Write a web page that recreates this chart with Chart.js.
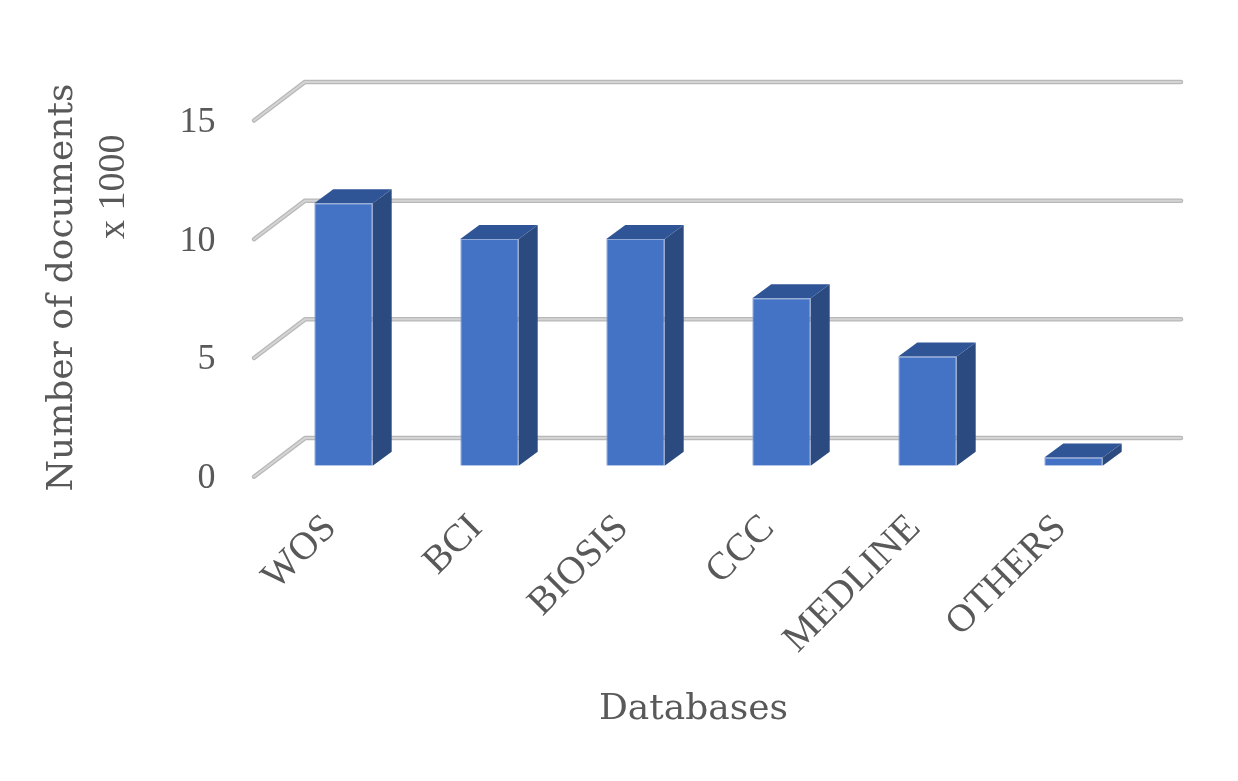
<!DOCTYPE html>
<html>
<head>
<meta charset="utf-8">
<script src="https://cdn.jsdelivr.net/npm/chart.js@4/dist/chart.umd.min.js"></script>
<style>
  body { margin: 0; background: #fff; }
  #chart { display: block; }
</style>
</head>
<body>
<canvas id="chart" width="1238" height="781"></canvas>
<script>
// Data (thousands of documents per database)
const databases = ['WOS', 'BCI', 'BIOSIS', 'CCC', 'MEDLINE', 'OTHERS'];
const documents = [11.05, 9.55, 9.55, 7.05, 4.6, 0.35];
const yTicks = [0, 5, 10, 15];

const textColor = '#595959';
const serif = '"Liberation Serif", "Times New Roman", serif';
const titleFont = '"DejaVu Serif", serif';

// depth offsets of the fake 3D box, relative to the bar plane
const backShift = { x: 34.5, y: -27.6 };
const frontShift = { x: -16.5, y: 11 };
const barDepth = { x: 19, y: -14 };

function gridStroke(ctx, pts) {
  ctx.lineCap = 'round';
  ctx.lineJoin = 'round';
  ctx.strokeStyle = '#b8b8b8';
  ctx.lineWidth = 4.5;
  ctx.beginPath();
  pts.forEach((p, i) => i ? ctx.lineTo(p[0], p[1]) : ctx.moveTo(p[0], p[1]));
  ctx.stroke();
  ctx.strokeStyle = '#d4d4d4';
  ctx.lineWidth = 2;
  ctx.stroke();
}

const box3d = {
  id: 'box3d',
  beforeDatasetsDraw(chart) {
    const { ctx, chartArea, scales: { y } } = chart;
    ctx.save();
    yTicks.forEach(v => {
      const py = y.getPixelForValue(v);
      gridStroke(ctx, [
        [chartArea.left + frontShift.x, py + frontShift.y],
        [chartArea.left + backShift.x, py + backShift.y],
        [chartArea.right + backShift.x, py + backShift.y]
      ]);
    });
    ctx.restore();
  },
  afterDatasetsDraw(chart) {
    const { ctx } = chart;
    const meta = chart.getDatasetMeta(0);
    ctx.save();
    meta.data.forEach(bar => {
      const { x, y, base, width } = bar.getProps(['x', 'y', 'base', 'width'], true);
      const l = x - width / 2, r = x + width / 2;
      // side face
      ctx.fillStyle = '#2b4a80';
      ctx.beginPath();
      ctx.moveTo(r, y);
      ctx.lineTo(r + barDepth.x, y + barDepth.y);
      ctx.lineTo(r + barDepth.x, base + barDepth.y);
      ctx.lineTo(r, base);
      ctx.closePath();
      ctx.fill();
      // top face
      ctx.fillStyle = '#2f5597';
      ctx.beginPath();
      ctx.moveTo(l, y);
      ctx.lineTo(l + barDepth.x, y + barDepth.y);
      ctx.lineTo(r + barDepth.x, y + barDepth.y);
      ctx.lineTo(r, y);
      ctx.closePath();
      ctx.fill();
    });
    ctx.restore();
  },
  afterDraw(chart) {
    const { ctx, chartArea, scales: { y } } = chart;
    ctx.save();
    ctx.fillStyle = textColor;
    // unit note next to the value axis
    ctx.font = '38px ' + serif;
    ctx.textAlign = 'center';
    ctx.textBaseline = 'middle';
    ctx.translate(114, y.getPixelForValue(11.75));
    ctx.rotate(-Math.PI / 2);
    ctx.fillText('x 1000', 0, 0);
    ctx.restore();

    ctx.save();
    ctx.fillStyle = textColor;
    ctx.font = '36px ' + titleFont;
    ctx.textAlign = 'center';
    ctx.textBaseline = 'alphabetic';
    ctx.fillText('Databases', (chartArea.left + chartArea.right) / 2 - 15, 719);
    ctx.restore();
  }
};

new Chart(document.getElementById('chart'), {
  type: 'bar',
  data: {
    labels: databases,
    datasets: [{
      label: 'Number of documents',
      data: documents,
      backgroundColor: '#4472c4',
      borderColor: '#8fa9d9',
      borderWidth: 1,
      barPercentage: 0.4,
      categoryPercentage: 1
    }]
  },
  options: {
    responsive: false,
    animation: false,
    devicePixelRatio: 1,
    layout: { padding: { top: 109.5, right: 91.5, bottom: 0, left: 0 } },
    plugins: { legend: { display: false }, tooltip: { enabled: false } },
    scales: {
      x: {
        grid: { display: false, drawTicks: false },
        border: { display: false },
        ticks: {
          autoSkip: false,
          maxRotation: 45,
          minRotation: 45,
          padding: 40,
          labelOffset: -13,
          color: textColor,
          font: { family: serif, size: 39 }
        },
        afterFit: s => { s.height = 315.3; }
      },
      y: {
        min: 0,
        max: 15,
        grid: { display: false, drawTicks: false },
        border: { display: false },
        ticks: {
          stepSize: 5,
          padding: 55,
          labelOffset: 13,
          color: textColor,
          font: { family: serif, size: 36 }
        },
        title: {
          display: true,
          text: 'Number of documents',
          color: textColor,
          padding: { top: 41, bottom: 0 },
          font: { family: titleFont, size: 36 }
        },
        afterFit: s => { s.width = 270.5; }
      }
    }
  },
  plugins: [box3d]
});
</script>
</body>
</html>
